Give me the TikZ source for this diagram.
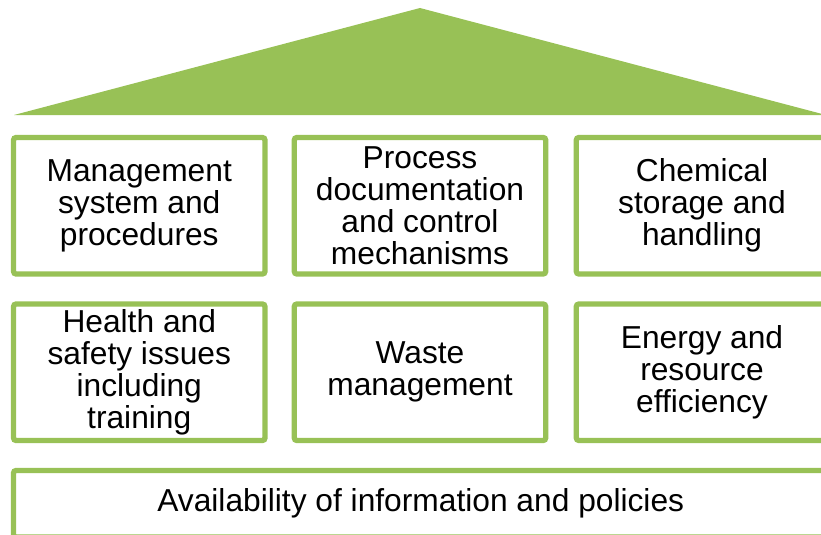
\documentclass[tikz,border=0pt]{standalone}
\usepackage{fontspec}
\setmainfont{Liberation Sans}
\definecolor{leaf}{RGB}{152,193,86}
\begin{document}
\begin{tikzpicture}[x=0.75pt,y=-0.75pt,
        box/.style={draw=leaf,line width=4pt,rounded corners=2pt,fill=white,
            inner sep=0pt,align=center,minimum width=188.6pt,minimum height=102.4pt,
            font=\fontsize{23.8}{24}\selectfont},
        base/.style={box,minimum width=610.9pt,minimum height=49.9pt}]
    \useasboundingbox (0,0) rectangle (821,535);
    \clip (0,0) rectangle (821,535);
    % roof
    \fill[leaf] (14,115) -- (420,8) -- (826,115) -- cycle;
    % first row
    \node[box] (mgmt) at (139.25,205.75) {Management\\system and\\procedures};
    \node[box] (proc) at (420,205.75) {Process\\documentation\\and control\\mechanisms};
    \node[box] (chem) at (702,205.75) {Chemical\\storage and\\handling};
    % second row
    \node[box] (health) at (139.25,372.25) {Health and\\safety issues\\including\\training};
    \node[box] (waste) at (420,372.25) {Waste\\management};
    \node[box] (energy) at (702,372.25) {Energy and\\resource\\efficiency};
    % foundation
    \node[base] (info) at (420.75,503.75) {Availability of information and policies};
\end{tikzpicture}
\end{document}
